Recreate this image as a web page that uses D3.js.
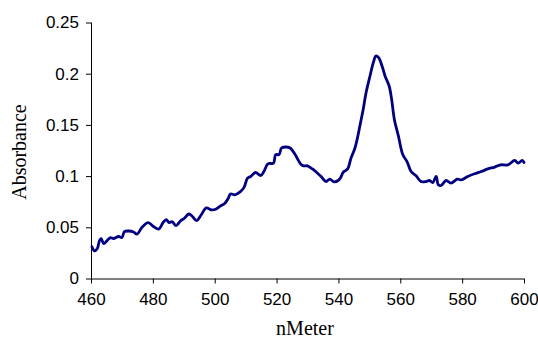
<!DOCTYPE html>
<html>
<head>
<meta charset="utf-8">
<script src="https://cdn.jsdelivr.net/npm/d3@7"></script>
<style>
  body { margin: 0; background: #fff; }
  .tick text { font-family: "Liberation Sans", Arial, sans-serif; font-size: 17px; fill: #000; }
  .axis path, .axis line { stroke: #000; stroke-width: 1; }
  .title { font-family: "Liberation Serif", "Times New Roman", serif; font-size: 20px; fill: #000; }
</style>
</head>
<body>
<svg id="chart" width="538" height="338"></svg>
<script>
// wavelength (nm)
const wavelength = [
  460.3, 461.1, 462.0, 462.8, 463.3, 464.1, 465.2, 466.3, 467.3, 468.9,
  470.0, 470.8, 472.2, 473.6, 474.9, 476.5, 478.5, 480.3, 481.9, 483.3,
  484.3, 485.3, 486.2, 487.5, 488.9, 490.2, 491.6, 492.7, 494.1, 495.6,
  497.3, 498.9, 500.3, 501.9, 503.3, 504.4, 505.1, 506.5, 508.3, 509.5,
  510.6, 511.6, 513.2, 514.9, 515.9, 517.2, 519.0, 519.7, 520.8, 521.6,
  523.0, 524.4, 525.7, 526.8, 527.8, 528.7, 530.0, 531.6, 533.0, 534.4,
  536.0, 537.2, 538.6, 539.9, 540.7, 541.6, 543.0, 544.0, 545.3, 546.2,
  547.0, 548.0, 548.9, 550.3, 551.3, 552.1, 553.0, 554.1, 555.1, 556.4,
  557.2, 558.1, 559.4, 560.8, 562.2, 563.5, 565.1, 566.7, 568.3, 569.4,
  570.5, 571.6, 572.3, 573.2, 574.8, 576.4, 578.4, 579.7, 581.8, 584.0,
  586.2, 588.3, 590.5, 592.4, 594.8, 597.0, 598.1, 599.4, 600.0
];

// absorbance at each wavelength
const absorbance = [
  0.031, 0.027, 0.029, 0.0375, 0.039, 0.034, 0.037, 0.040, 0.039, 0.041,
  0.040, 0.0457, 0.0464, 0.0457, 0.0434, 0.050, 0.0545, 0.0506, 0.0483, 0.0545,
  0.0575, 0.0545, 0.0555, 0.0516, 0.0562, 0.0588, 0.063, 0.061, 0.0565, 0.062,
  0.069, 0.067, 0.0676, 0.0709, 0.0735, 0.0784, 0.0826, 0.0817, 0.0848, 0.089,
  0.098, 0.0996, 0.1035, 0.1006, 0.1045, 0.112, 0.1127, 0.121, 0.121, 0.1274,
  0.1284, 0.1274, 0.1225, 0.1167, 0.1118, 0.110, 0.110, 0.107, 0.1035, 0.0996,
  0.0947, 0.097, 0.0944, 0.0957, 0.0985, 0.104, 0.107, 0.117, 0.127, 0.138,
  0.150, 0.165, 0.181, 0.199, 0.211, 0.2172, 0.2157, 0.2075, 0.1976, 0.188,
  0.175, 0.155, 0.139, 0.121, 0.114, 0.1045, 0.1003, 0.0947, 0.0947, 0.0957,
  0.0937, 0.0996, 0.0915, 0.0908, 0.0957, 0.0931, 0.097, 0.0964, 0.0996, 0.1023,
  0.1045, 0.107, 0.1088, 0.111, 0.111, 0.1153, 0.1127, 0.1153, 0.1133
];

const xTicks = [460, 480, 500, 520, 540, 560, 580, 600];
const yTicks = [0, 0.05, 0.1, 0.15, 0.2, 0.25];

const svg = d3.select('#chart');

const plotLeft = 91, plotRight = 524, plotTop = 22.5, plotBottom = 278.5;

const xScale = d3.scaleLinear().domain([460, 600]).range([plotLeft, plotRight]);
const yScale = d3.scaleLinear().domain([0, 0.25]).range([plotBottom, plotTop]);

// x axis
svg.append('g')
  .attr('class', 'axis')
  .attr('transform', `translate(0, ${plotBottom})`)
  .call(d3.axisBottom(xScale)
    .tickValues(xTicks)
    .tickSize(5)
    .tickPadding(9)
    .tickFormat(d3.format('d')))
  .call(g => g.select('.domain').attr('d', `M${plotLeft},0.5H${plotRight}`));

// y axis
svg.append('g')
  .attr('class', 'axis')
  .attr('transform', `translate(${plotLeft}, 0)`)
  .call(d3.axisLeft(yScale)
    .tickValues(yTicks)
    .tickSize(5)
    .tickPadding(7)
    .tickFormat(d => String(d)))
  .call(g => g.select('.domain').attr('d', `M0.5,${plotTop}V${plotBottom}`));

// spectrum line
const points = wavelength.map((w, i) => [w, absorbance[i]]);

const line = d3.line()
  .x(d => xScale(d[0]))
  .y(d => yScale(d[1]))
  .curve(d3.curveCatmullRom.alpha(0.5));

svg.append('path')
  .datum(points)
  .attr('d', line)
  .attr('fill', 'none')
  .attr('stroke', '#000080')
  .attr('stroke-width', 2.8)
  .attr('stroke-linejoin', 'round')
  .attr('stroke-linecap', 'round');

// axis titles
svg.append('text')
  .attr('class', 'title')
  .attr('x', 305)
  .attr('y', 335)
  .attr('text-anchor', 'middle')
  .text('nMeter');

svg.append('text')
  .attr('class', 'title')
  .attr('transform', 'translate(26, 152) rotate(-90)')
  .attr('text-anchor', 'middle')
  .text('Absorbance');
</script>
</body>
</html>
